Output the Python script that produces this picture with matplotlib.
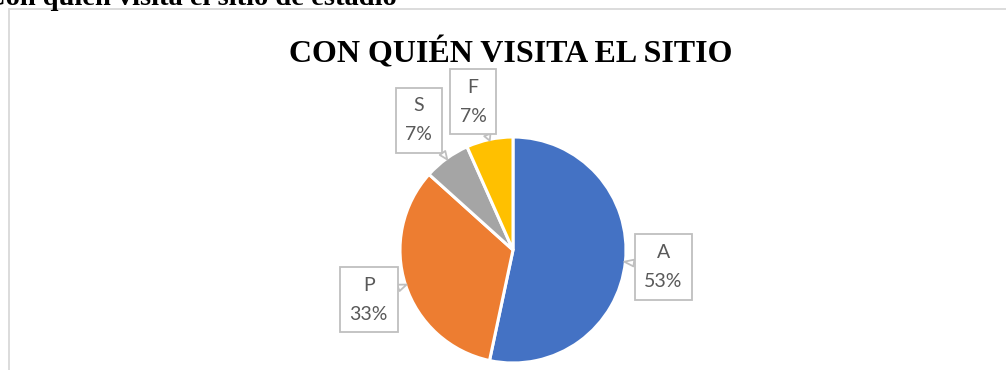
import matplotlib.pyplot as plt
import numpy as np

# respuestas por acompañante (15 encuestados)
categorias = ['A', 'P', 'S', 'F']
conteos = [8, 5, 1, 1]
colores = ['#4472C4', '#ED7D31', '#A5A5A5', '#FFC000']
# distancia de cada etiqueta al centro, en radios
dist_etiqueta = [1.34, 1.35, 1.42, 1.36]
desvio_angulo = [-0.5, 1.0, 0.0, 3.0]

W, H = 1006, 370
fig = plt.figure(figsize=(W / 100, H / 100), dpi=100)

# marco del gráfico
marco = plt.Rectangle((8.5 / W, -0.1), 1.1, (H - 9) / H + 0.1, transform=fig.transFigure,
                      fill=False, ec='#d9d9d9', lw=1.3)
fig.patches.append(marco)

# encabezado del documento, cortado por arriba
fig.text(-15 / W, 1 - 5 / H, 'Con quien visita el sitio de estadio', ha='left', va='baseline',
         family='Liberation Serif', weight='bold', fontsize=20.5)

fig.text(511 / W, 1 - 62 / H, 'CON QUIÉN VISITA EL SITIO', ha='center', va='baseline',
         family='Liberation Serif', weight='bold', fontsize=23)

cx, cy, r = 513, 250, 113
ax = fig.add_axes([(cx - r) / W, (H - cy - r) / H, 2 * r / W, 2 * r / H])
wedges, _ = ax.pie(conteos, colors=colores, startangle=90, counterclock=False,
                   wedgeprops=dict(edgecolor='white', linewidth=2.2))
ax.set_xlim(-1, 1)
ax.set_ylim(-1, 1)
ax.axis('off')

total = sum(conteos)
for w, cat, n, d, da in zip(wedges, categorias, conteos, dist_etiqueta, desvio_angulo):
    ang = np.deg2rad((w.theta1 + w.theta2) / 2)
    ang_t = ang + np.deg2rad(da)
    pct = round(100 * n / total)
    ax.annotate(f'{cat}\n{pct}%', xy=(np.cos(ang) * 0.99, np.sin(ang) * 0.99),
                xytext=(np.cos(ang_t) * d, np.sin(ang_t) * d),
                ha='center', va='center', family='Lato', fontsize=14, color='#595959',
                linespacing=1.85, annotation_clip=False,
                bbox=dict(boxstyle='square,pad=0.5', fc='white', ec='#bfbfbf', lw=1.3),
                arrowprops=dict(arrowstyle='wedge,tail_width=0.35,shrink_factor=0.5',
                                fc='white', ec='#bfbfbf', lw=1.3, shrinkA=0, shrinkB=0))

fig.savefig('out.png', dpi=100)
